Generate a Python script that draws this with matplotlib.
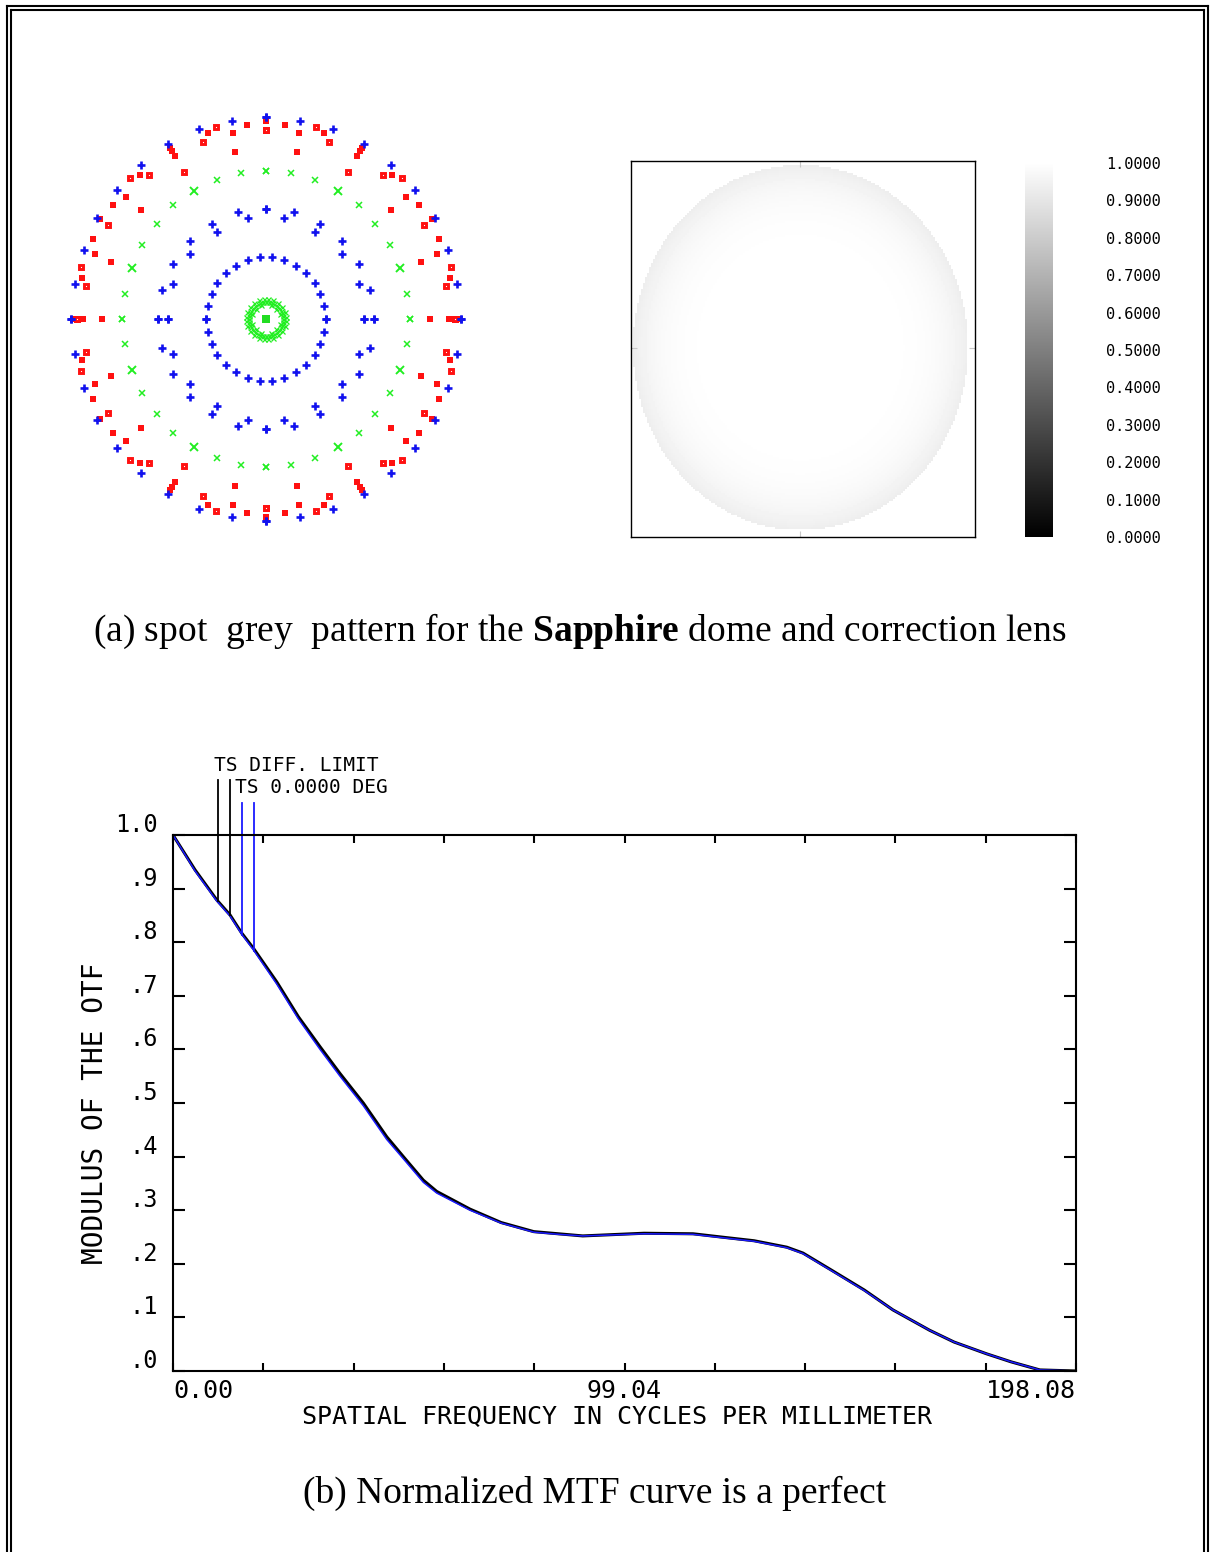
import matplotlib
matplotlib.use("Agg")
import matplotlib.pyplot as plt
import numpy as np
from matplotlib.lines import Line2D
from matplotlib.transforms import ScaledTranslation

W, H = 1212, 1552
MONO = "DejaVu Sans Mono"
SERIF = "Liberation Serif"

# ---- spot diagram: one quadrant (dx, dy in image pixels from the centre), mirrored later
blue_plus = [(0, 202), (34, 198), (67, 190), (98, 175), (125, 154), (149, 129),
             (169, 101), (182, 69), (191, 35), (195, 0),
             (0, 110), (18, 101), (28, 107), (54, 95), (49, 87), (76, 78), (76, 65),
             (93, 55), (93, 35), (104, 29), (98, 0), (108, 0),
             (6, 62), (18, 59), (30, 53), (40, 46), (49, 36), (54, 25), (58, 13), (60, 0)]
red_full = [(0, 198), (19, 194), (33, 186), (58, 186), (31, 167), (96, 171), (94, 168),
            (91, 163), (126, 144), (140, 122), (153, 114), (125, 109), (166, 100),
            (173, 80), (171, 65), (155, 57), (184, 41), (164, 0), (183, 0), (193, 0)]
red_open = [(0, 189), (50, 192), (63, 177), (82, 147), (117, 144), (136, 141),
            (158, 94), (185, 52), (180, 33), (189, 0)]
green_x = [(0, 148), (25, 146), (49, 139), (93, 114), (109, 95), (124, 74),
           (141, 25), (144, 0)]
green_x_big = [(72, 128), (134, 51)]
green_core = [(17, 0), (17, 3), (16, 6), (15, 8), (13, 11), (11, 13), (8, 15),
              (6, 16), (3, 17), (0, 17), (20, 2), (19, 7), (16, 12), (12, 16),
              (7, 19), (2, 20), (14, 5), (10, 10), (5, 14)]
green_centre = [(0, 0)]

# ---- grey (relative illumination) map
grey_edge_level = 0.93
grey_centre_level = 1.0
cbar_ticks = [0.0, 0.1, 0.2, 0.3, 0.4, 0.5, 0.6, 0.7, 0.8, 0.9, 1.0]
cbar_labels = ["0.0000", "0.1000", "0.2000", "0.3000", "0.4000", "0.5000",
               "0.6000", "0.7000", "0.8000", "0.9000", "1.0000"]

# ---- MTF curves
freq = [0, 4.83, 9.59, 12.50, 15.07, 17.61, 22.75, 27.49, 32.25, 36.63, 41.74,
        46.88, 50.52, 54.91, 57.85, 65.15, 71.97, 79.14, 84.52, 89.89, 103.32,
        114.07, 121.22, 127.47, 134.64, 138.20, 144.47, 151.65, 157.92, 165.97,
        171.34, 178.49, 183.87, 190.14, 198.08]
mtf_diff = [1.0, 0.935, 0.879, 0.851, 0.817, 0.789, 0.726, 0.661, 0.605, 0.555,
            0.500, 0.437, 0.400, 0.356, 0.335, 0.302, 0.277, 0.260, 0.256, 0.252,
            0.257, 0.256, 0.249, 0.243, 0.231, 0.220, 0.188, 0.151, 0.114, 0.076,
            0.054, 0.032, 0.017, 0.002, 0.0]
mtf_ts = [1.0, 0.933, 0.877, 0.849, 0.815, 0.786, 0.722, 0.657, 0.600, 0.550,
          0.495, 0.432, 0.396, 0.352, 0.332, 0.300, 0.276, 0.259, 0.255, 0.252,
          0.256, 0.255, 0.248, 0.242, 0.230, 0.219, 0.187, 0.150, 0.114, 0.076,
          0.054, 0.032, 0.017, 0.002, 0.0]
x_ticks = np.linspace(0, 198.08, 11)
x_labels = ["0.00", "", "", "", "", "99.04", "", "", "", "", "198.08"]
y_ticks = [0.0, 0.1, 0.2, 0.3, 0.4, 0.5, 0.6, 0.7, 0.8, 0.9, 1.0]
y_labels = [".0", ".1", ".2", ".3", ".4", ".5", ".6", ".7", ".8", ".9", "1.0"]
diff_marks = [9.87, 12.50]
ts_marks = [15.14, 17.77]

fig = plt.figure(figsize=(W / 100, H / 100), dpi=100)


def box(x0, y0, x1, y1):
    return fig.add_axes([x0 / W, 1 - y1 / H, (x1 - x0) / W, (y1 - y0) / H])


def mirror(pts):
    p = np.array(pts, float)
    return np.vstack([p * [sx, sy] for sx in (1, -1) for sy in (1, -1)])


# double frame round the page
for x in (7, 11, 1204, 1208):
    fig.add_artist(Line2D([x / W, x / W], [0, 1 - (6 if x in (7, 1208) else 10) / H],
                          color="black", lw=1.5))
for y, x0, x1 in ((6, 7, 1208), (10, 11, 1204)):
    fig.add_artist(Line2D([x0 / W, x1 / W], [1 - y / H, 1 - y / H], color="black", lw=1.5))

# spot diagram
ax = box(60, 105, 472, 533)
ax.set_xlim(-206, 206)
ax.set_ylim(-214, 214)
ax.axis("off")
p = mirror(green_core)
ax.plot(p[:, 0], p[:, 1], "x", color="#22ee22", ms=3.6, mew=0.9)
p = mirror(green_centre)
ax.plot(p[:, 0], p[:, 1], "s", color="#22dd22", ms=6.0, mew=0)
p = mirror(green_x)
ax.plot(p[:, 0], p[:, 1], "x", color="#22ee22", ms=4.6, mew=1.1)
p = mirror(green_x_big)
ax.plot(p[:, 0], p[:, 1], "x", color="#22ee22", ms=6.0, mew=1.4)
p = mirror(red_full)
ax.plot(p[:, 0], p[:, 1], "s", color="#ff1111", ms=4.8, mew=0)
p = mirror(red_open)
ax.plot(p[:, 0], p[:, 1], "s", mfc="white", mec="#ff1111", ms=3.0, mew=2.1)
p = mirror(blue_plus)
ax.plot(p[:, 0], p[:, 1], "+", color="#1111ee", ms=6.0, mew=1.9)

# grey map
gx = box(631, 161, 975, 537)
xx, yy = np.meshgrid(np.arange(631, 975, 2) + 1, np.arange(161, 537, 2) + 1)
rho = ((xx - 800.5) / 167.5) ** 2 + ((yy - 347.5) / 182.5) ** 2
img = np.where(rho <= 1, grey_centre_level - (grey_centre_level - grey_edge_level) * rho ** 3, 1.0)
gx.imshow(img, cmap="gray", vmin=0, vmax=1, extent=(631, 975, 537, 161),
          interpolation="nearest", aspect="auto")
gx.set_xlim(631, 975)
gx.set_ylim(537, 161)
gx.set_xticks([800])
gx.set_yticks([348])
gx.tick_params(direction="in", length=4, color="#c8c8c8", labelleft=False,
               labelbottom=False, top=True, right=True)
for s in gx.spines.values():
    s.set_linewidth(1.0)

# colour bar
cx = box(1025, 163, 1053, 537)
grad = np.linspace(0, 1, 256).reshape(-1, 1)
cx.imshow(grad, cmap="gray", vmin=0, vmax=1, origin="lower", aspect="auto",
          extent=(0, 1, 0, 1))
cx.set_xticks([])
cx.yaxis.tick_right()
cx.set_yticks(cbar_ticks)
cx.set_yticklabels(cbar_labels, family=MONO, fontsize=11)
cx.tick_params(axis="y", length=0, pad=38)
for s in cx.spines.values():
    s.set_visible(False)

plt.rcParams["mathtext.fontset"] = "custom"
plt.rcParams["mathtext.rm"] = SERIF
plt.rcParams["mathtext.bf"] = SERIF + ":bold"
fig.text(580 / W, 1 - 631 / H,
         r"(a) spot  grey  pattern for the $\mathbf{Sapphire}$ dome and correction lens",
         family=SERIF, fontsize=27, ha="center", va="center")

# MTF
mx = box(173, 835, 1076, 1371)
mx.plot(freq, mtf_diff, color="black", lw=2.2)
mx.plot(freq, mtf_ts, color="#1a1aff", lw=1.1)
mx.set_xlim(0, 198.08)
mx.set_ylim(0, 1)
for f in diff_marks:
    mx.plot([f, f], [np.interp(f, freq, mtf_diff), 1.103], color="black", lw=1.3, clip_on=False)
for f in ts_marks:
    mx.plot([f, f], [np.interp(f, freq, mtf_ts), 1.060], color="#1a1aff", lw=1.3, clip_on=False)
mx.text(9.0, 1.112, "TS DIFF. LIMIT", family=MONO, fontsize=14, va="bottom", ha="left")
mx.text(13.7, 1.070, "TS 0.0000 DEG", family=MONO, fontsize=14, va="bottom", ha="left")
for s in mx.spines.values():
    s.set_linewidth(1.5)
mx.set_xticks(x_ticks)
mx.set_xticklabels(x_labels, family=MONO, fontsize=18)
mx.set_yticks(y_ticks)
mx.set_yticklabels(y_labels, family=MONO, fontsize=17)
mx.tick_params(axis="y", direction="in", length=8.5, width=1.5, left=True, right=True, pad=11)
mx.tick_params(axis="x", direction="in", length=6, width=1.5, top=True, bottom=True, pad=6)
tl = mx.get_xticklabels()
tl[0].set_ha("left")
tl[-1].set_ha("right")
for lab in mx.get_yticklabels():
    lab.set_transform(lab.get_transform() + ScaledTranslation(0, 9 / 72, fig.dpi_scale_trans))
fig.text(617 / W, 1 - 1416 / H, "SPATIAL FREQUENCY IN CYCLES PER MILLIMETER",
         family=MONO, fontsize=18, ha="center", va="center")
fig.text(95 / W, 1 - 1113 / H, "MODULUS OF THE OTF", family=MONO, fontsize=20,
         rotation=90, ha="center", va="center")

fig.text(595 / W, 1 - 1493 / H, "(b) Normalized MTF curve is a perfect",
         family=SERIF, fontsize=27, ha="center", va="center")

fig.savefig("out.png", dpi=100)
